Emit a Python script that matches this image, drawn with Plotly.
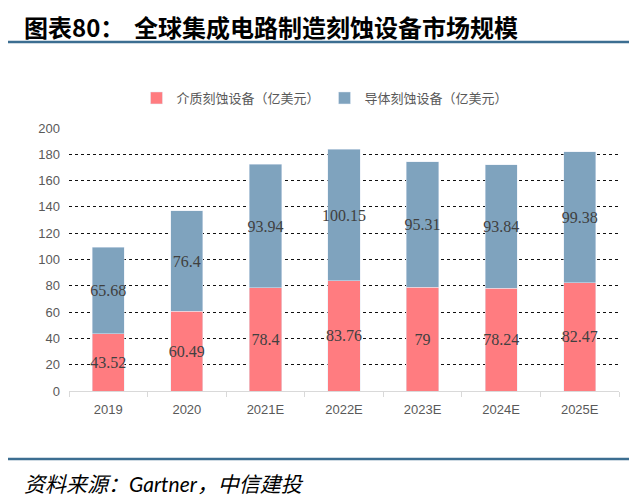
import plotly.graph_objects as go

years = ["2019", "2020", "2021E", "2022E", "2023E", "2024E", "2025E"]
dielectric = [43.52, 60.49, 78.4, 83.76, 79, 78.24, 82.47]
conductor = [65.68, 76.4, 93.94, 100.15, 95.31, 93.84, 99.38]
y_ticks = [0, 20, 40, 60, 80, 100, 120, 140, 160, 180, 200]

# page body has an 8px margin, so the figure is sized to fit the window
OFF = 8
W, H = 637 - OFF, 501 - OFF
L, R, T, B = 61, 18, 120, 110
pw, ph = W - L - R, H - T - B


def px(x):
    # page pixel -> paper coordinate
    return (x - OFF - L) / pw


def py(y):
    return (H - B - (y - OFF)) / ph


label_font = dict(family="Liberation Serif, DejaVu Serif, serif", size=16, color="#404040")

fig = go.Figure()
fig.add_trace(go.Bar(
    x=years, y=dielectric, name="介质刻蚀设备（亿美元）",
    marker_color="#FF7C80", width=0.41,
    text=[str(v) for v in dielectric], textposition="inside",
    insidetextanchor="middle", textfont=label_font, textangle=0,
))
fig.add_trace(go.Bar(
    x=years, y=conductor, name="导体刻蚀设备（亿美元）",
    marker_color="#7FA3BE", width=0.41,
    text=[str(v) for v in conductor], textposition="inside",
    insidetextanchor="middle", textfont=label_font, textangle=0,
))

fig.update_layout(
    barmode="stack",
    width=W, height=H,
    margin=dict(l=L, r=R, t=T, b=B),
    plot_bgcolor="white", paper_bgcolor="white",
    font=dict(family="Liberation Sans, Arial, sans-serif", color="#595959", size=12),
    uniformtext=dict(mode="show", minsize=16),
    legend=dict(
        orientation="h", x=px(325), xanchor="center", y=py(98), yanchor="middle",
        font=dict(family="Noto Sans CJK SC", size=13, color="#595959"),
        traceorder="normal",
    ),
    showlegend=True,
)
fig.update_yaxes(
    range=[0, 200], tickvals=y_ticks, showgrid=True,
    gridcolor="#111111", griddash="dot", gridwidth=1,
    zeroline=False, showline=False, ticks="", ticklabelstandoff=8,
    tickfont=dict(size=13, color="#595959"),
)
fig.update_xaxes(
    showline=True, linecolor="#D9D9D9", linewidth=1,
    ticks="outside", tickson="boundaries", ticklen=5, tickcolor="#D9D9D9",
    ticklabelstandoff=6,
    tickfont=dict(size=13, color="#595959"),
)

line_color = "#3C6E91"
fig.add_shape(type="line", xref="paper", yref="paper",
              x0=px(8), x1=px(640), y0=py(42), y1=py(42),
              line=dict(color=line_color, width=2.5))
fig.add_shape(type="line", xref="paper", yref="paper",
              x0=px(8), x1=px(640), y0=py(459), y1=py(459),
              line=dict(color=line_color, width=2.5))

title_font = dict(family="Noto Sans CJK SC", size=24, color="#000000")
fig.add_annotation(
    text="<b>图表80：</b>",
    xref="paper", yref="paper", x=px(22), y=py(26),
    xanchor="left", yanchor="middle", showarrow=False, font=title_font,
)
fig.add_annotation(
    text="<b>全球集成电路制造刻蚀设备市场规模</b>",
    xref="paper", yref="paper", x=px(132), y=py(26),
    xanchor="left", yanchor="middle", showarrow=False, font=title_font,
)
fig.add_annotation(
    text="<i>资料来源：<span style='font-family:Lato'>Gartner</span>，中信建投</i>",
    xref="paper", yref="paper", x=px(22), y=py(483),
    xanchor="left", yanchor="middle", showarrow=False,
    font=dict(family="Noto Sans CJK SC", size=21, color="#000000"),
)

fig.write_html("out.html")
